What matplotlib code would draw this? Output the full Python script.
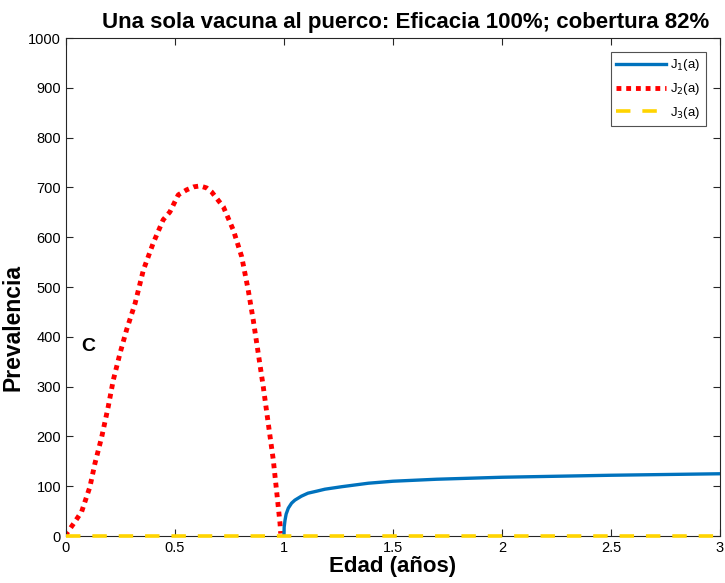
import matplotlib
matplotlib.use("Agg")
import matplotlib.pyplot as plt

plt.rcParams['font.family'] = ['Liberation Sans', 'DejaVu Sans']

# Data
j2_x = [0.0, 0.003, 0.04, 0.072, 0.11, 0.133, 0.164, 0.194, 0.217, 0.248, 0.278, 0.317, 0.355,
        0.40, 0.446, 0.477, 0.515, 0.553, 0.585, 0.615, 0.645, 0.668, 0.722, 0.768, 0.806,
        0.836, 0.859, 0.882, 0.905, 0.928, 0.951, 0.969, 0.982, 0.985]
j2_y = [0, 5, 28, 49, 99, 146, 199, 260, 313, 367, 414, 467, 534,
        588, 635, 651, 685, 695, 701, 703, 699, 691, 661, 614, 561,
        494, 434, 367, 300, 226, 153, 79, 25, 5]

j1_x = [1.0, 1.001, 1.005, 1.01, 1.02, 1.035, 1.05, 1.08, 1.11, 1.15, 1.188, 1.265, 1.387, 1.5,
        1.7, 2.0, 2.5, 3.0]
j1_y = [0, 18, 32, 44, 56, 66, 72, 80, 86, 90, 94, 99, 106, 110,
        114, 118, 122, 125]

j3_x = [0.0, 3.0]
j3_y = [0, 0]

labels = [r'J$_1$(a)', r'J$_2$(a)', r'J$_3$(a)']
xticks = [0, 0.5, 1, 1.5, 2, 2.5, 3]
xticklabels = ['0', '0.5', '1', '1.5', '2', '2.5', '3']
yticks = list(range(0, 1001, 100))

fig = plt.figure(figsize=(7.25, 5.83), dpi=100)
ax = fig.add_axes([0.091, 0.0806, 0.902, 0.8542])

ax.plot(j1_x, j1_y, color='#0072BD', lw=2.4, label=labels[0], zorder=3)
ax.plot(j2_x, j2_y, color='#FF0000', lw=3.5, linestyle=(0, (1, 1)), label=labels[1], zorder=2)
ax.plot(j3_x, j3_y, color='#FFD400', lw=2.6, linestyle=(0, (4, 3.3)), label=labels[2],
        zorder=4, clip_on=False)

ax.set_xlim(0, 3)
ax.set_ylim(0, 1000)
ax.set_xticks(xticks)
ax.set_xticklabels(xticklabels)
ax.set_yticks(yticks)

axcol = '#262626'
for s in ax.spines.values():
    s.set_color(axcol)
    s.set_linewidth(0.8)
ax.tick_params(direction='in', top=True, right=True, length=5, width=0.8,
               color=axcol, labelsize=10.5, labelcolor='black')

ax.set_title('Una sola vacuna al puerco: Eficacia 100%; cobertura 82%',
             fontsize=16, fontweight='bold', pad=7, x=0.52)
ax.set_xlabel('Edad (años)', fontsize=16, fontweight='bold', labelpad=1)
ax.set_ylabel('Prevalencia', fontsize=16.5, fontweight='bold')
ax.yaxis.set_label_coords(-0.063, 0.418)

ax.text(0.1, 380, 'C', fontsize=14, fontweight='bold', ha='center', va='center')

leg = ax.legend(loc='upper right', fontsize=9.5, fancybox=False, edgecolor=axcol,
                handlelength=3.8, borderpad=0.4, labelspacing=0.6, borderaxespad=0,
                bbox_to_anchor=(0.9786, 0.972), handletextpad=0.3)
leg.get_frame().set_linewidth(0.8)

fig.savefig('out.png', dpi=100)
